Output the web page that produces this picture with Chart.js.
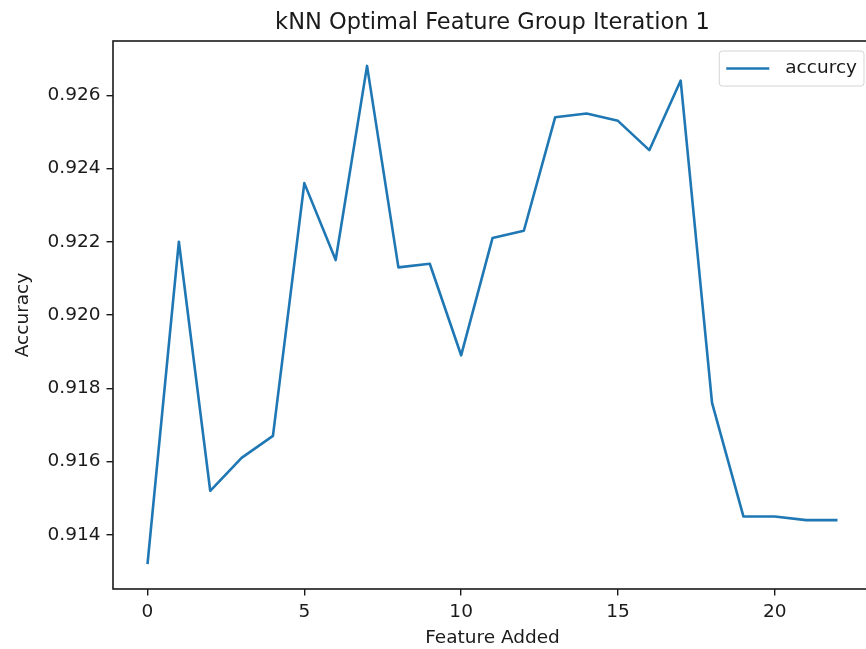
<!DOCTYPE html>
<html>
<head>
<meta charset="utf-8">
<script src="https://cdn.jsdelivr.net/npm/chart.js@4.4.1/dist/chart.umd.min.js"></script>
<style>
  html, body { margin: 0; padding: 0; background: #fff; overflow: hidden; }
  #wrap { width: 866px; height: 649px; overflow: hidden; position: relative; background: #fff; }
  #c { position: absolute; left: 0; top: 0; }
</style>
</head>
<body>
<div id="wrap"><canvas id="c" width="880" height="649" style="width:880px;height:649px"></canvas></div>
<script>
// Feature-selection run: accuracy after each feature is added
const features = [0, 1, 2, 3, 4, 5, 6, 7, 8, 9, 10, 11, 12, 13, 14, 15, 16, 17, 18, 19, 20, 21, 22];
const accuracy = [0.9132, 0.9220, 0.9152, 0.9161, 0.9167, 0.9236, 0.9215, 0.9268, 0.9213, 0.9214,
                  0.9189, 0.9221, 0.9223, 0.9254, 0.9255, 0.9253, 0.9245, 0.9264, 0.9176, 0.9145,
                  0.9145, 0.9144, 0.9144];
const xTicks = [0, 5, 10, 15, 20];
const yTicks = [0.914, 0.916, 0.918, 0.920, 0.922, 0.924, 0.926];
const chartTitle = 'kNN Optimal Feature Group Iteration 1';
const xTitle = 'Feature Added';
const yTitle = 'Accuracy';
const seriesName = 'accurcy';

const FONT = 'DejaVu Sans';
const INK = '#1a1a1a';
const LINE = '#1f77b4';

// 5% padding around the data range on both axes
const xLo = Math.min(...features), xHi = Math.max(...features);
const xPad = (xHi - xLo) * 0.05;
const yLo = Math.min(...accuracy), yHi = Math.max(...accuracy);
const yPad = (yHi - yLo) * 0.05;

// Full box frame around the plotting area
const framePlugin = {
  id: 'frame',
  afterDatasetsDraw(chart) {
    const { ctx, chartArea: a } = chart;
    ctx.save();
    ctx.strokeStyle = INK;
    ctx.lineWidth = 1.6;
    ctx.strokeRect(a.left, a.top, a.right - a.left, a.bottom - a.top);
    ctx.restore();
  }
};

// Legend box in the upper right corner
const legendBox = {
  id: 'legendBox',
  afterDraw(chart) {
    const { ctx, chartArea: a } = chart;
    const ds = chart.data.datasets[0];
    ctx.save();
    ctx.font = `18.5px "${FONT}"`;
    const tw = ctx.measureText(ds.label).width;
    const pad = 7, handle = 43, gap = 16;
    const w = pad + handle + gap + tw + pad;
    const right = a.right - 8;
    const left = right - w;
    const top = a.top + 10;
    const h = 35;
    const r = 3;
    ctx.beginPath();
    ctx.moveTo(left + r, top);
    ctx.lineTo(right - r, top);
    ctx.quadraticCurveTo(right, top, right, top + r);
    ctx.lineTo(right, top + h - r);
    ctx.quadraticCurveTo(right, top + h, right - r, top + h);
    ctx.lineTo(left + r, top + h);
    ctx.quadraticCurveTo(left, top + h, left, top + h - r);
    ctx.lineTo(left, top + r);
    ctx.quadraticCurveTo(left, top, left + r, top);
    ctx.closePath();
    ctx.fillStyle = 'rgba(255,255,255,0.85)';
    ctx.fill();
    ctx.strokeStyle = '#d4d4d4';
    ctx.lineWidth = 1;
    ctx.stroke();
    const cy = top + h / 2;
    ctx.strokeStyle = ds.borderColor;
    ctx.lineWidth = ds.borderWidth;
    ctx.beginPath();
    ctx.moveTo(left + pad, cy);
    ctx.lineTo(left + pad + handle, cy);
    ctx.stroke();
    ctx.fillStyle = INK;
    ctx.textBaseline = 'middle';
    ctx.textAlign = 'left';
    ctx.fillText(ds.label, left + pad + handle + gap, cy);
    ctx.restore();
  }
};

new Chart(document.getElementById('c'), {
  type: 'line',
  data: {
    datasets: [{
      label: seriesName,
      data: features.map((f, i) => ({ x: f, y: accuracy[i] })),
      borderColor: LINE,
      backgroundColor: LINE,
      borderWidth: 2.6,
      borderJoinStyle: 'round',
      borderCapStyle: 'butt',
      pointRadius: 0,
      tension: 0,
      fill: false
    }]
  },
  options: {
    responsive: false,
    animation: false,
    events: [],
    layout: { padding: { left: 0, right: 8, top: 0, bottom: 0 } },
    plugins: {
      legend: { display: false },
      tooltip: { enabled: false },
      title: {
        display: true,
        text: chartTitle,
        fullSize: false,
        color: INK,
        font: { family: FONT, size: 22.5, weight: 'normal', lineHeight: 1.2 },
        padding: { top: 10, bottom: 4 }
      }
    },
    scales: {
      x: {
        type: 'linear',
        min: xLo - xPad,
        max: xHi + xPad,
        afterBuildTicks(s) { s.ticks = xTicks.map(v => ({ value: v })); },
        afterFit(s) { s.height = 60; },
        border: { display: false },
        grid: { display: true, drawOnChartArea: false, drawTicks: true, tickLength: 6.5, color: INK, lineWidth: 1.4 },
        ticks: { color: INK, padding: 6, maxRotation: 0, font: { family: FONT, size: 18.5 }, callback: v => String(v) },
        title: { display: true, text: xTitle, color: INK, font: { family: FONT, size: 18.5 }, padding: { top: 0, bottom: 0 } }
      },
      y: {
        type: 'linear',
        min: yLo - yPad,
        max: yHi + yPad,
        afterBuildTicks(s) { s.ticks = yTicks.map(v => ({ value: v })); },
        afterFit(s) { s.width = 113; },
        border: { display: false },
        grid: { display: true, drawOnChartArea: false, drawTicks: true, tickLength: 6.5, color: INK, lineWidth: 1.4 },
        ticks: { color: INK, padding: 6, font: { family: FONT, size: 18.5 }, callback: v => v.toFixed(3) },
        title: { display: true, text: yTitle, color: INK, font: { family: FONT, size: 18.5 }, padding: { top: 12, bottom: 0 } }
      }
    }
  },
  plugins: [framePlugin, legendBox]
});
</script>
</body>
</html>
